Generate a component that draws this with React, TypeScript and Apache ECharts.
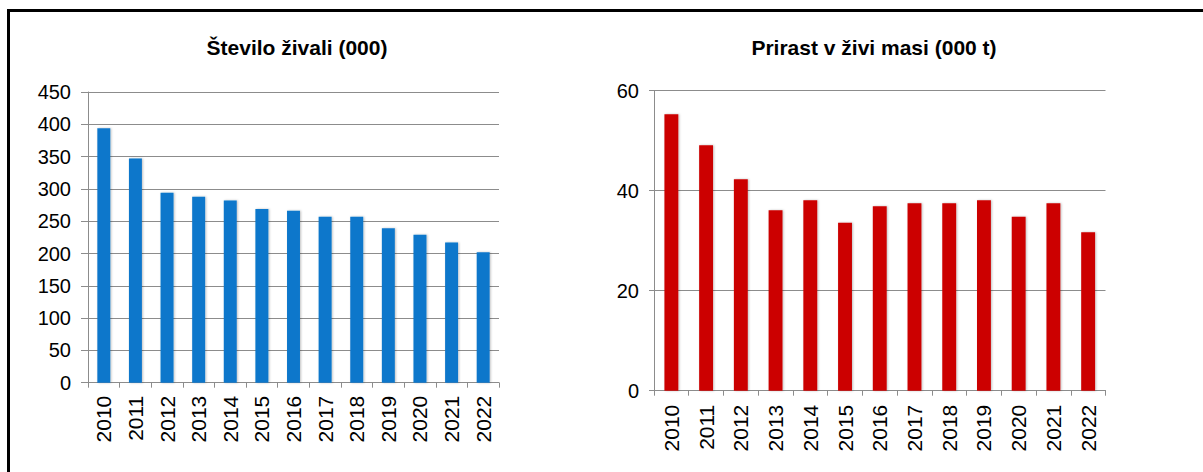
import React, { useEffect, useRef } from "react";
import * as echarts from "echarts";

const years: string[] = ["2010", "2011", "2012", "2013", "2014", "2015", "2016", "2017", "2018", "2019", "2020", "2021", "2022"];
const animals: number[] = [394, 347, 294, 288, 282, 269, 266, 257, 257, 239, 229, 217, 202];
const liveWeightGain: number[] = [55.3, 49.1, 42.3, 36.1, 38.1, 33.6, 36.9, 37.5, 37.5, 38.1, 34.8, 37.5, 31.7];

const leftTitle = "Število živali (000)";
const rightTitle = "Prirast v živi masi (000 t)";

const FONT = "'Liberation Sans', Arial, sans-serif";
const GRID_GRAY = "#8c8c8c";

export default function App() {
  const ref = useRef<HTMLDivElement>(null);

  useEffect(() => {
    if (!ref.current) return;
    const chart = echarts.init(ref.current, undefined, { renderer: "svg" });

    const xAxisBase = (gridIndex: number, margin: number) => ({
      type: "category" as const,
      gridIndex,
      data: years,
      boundaryGap: true,
      axisLine: { show: true, lineStyle: { color: GRID_GRAY, width: 1 } },
      axisTick: { show: true, alignWithLabel: false, length: 5, lineStyle: { color: GRID_GRAY } },
      axisLabel: { rotate: 90, margin, fontSize: 21, color: "#000", fontFamily: FONT },
      splitLine: { show: false },
    });

    const yAxisBase = (gridIndex: number, max: number, interval: number, tick: number, margin: number) => ({
      type: "value" as const,
      gridIndex,
      min: 0,
      max,
      interval,
      axisLine: { show: true, lineStyle: { color: GRID_GRAY, width: 1 } },
      axisTick: { show: true, length: tick, lineStyle: { color: GRID_GRAY } },
      axisLabel: { margin, fontSize: 20, color: "#000", fontFamily: FONT },
      splitLine: { show: true, lineStyle: { color: GRID_GRAY, width: 1 } },
    });

    chart.setOption({
      animation: false,
      backgroundColor: "#fff",
      textStyle: { fontFamily: FONT },
      title: [
        {
          text: leftTitle,
          left: 292,
          top: 32,
          textAlign: "center",
          textStyle: { fontSize: 21, fontWeight: "bold", color: "#000", fontFamily: FONT },
        },
        {
          text: rightTitle,
          left: 869,
          top: 32,
          textAlign: "center",
          textStyle: { fontSize: 21, fontWeight: "bold", color: "#000", fontFamily: FONT },
        },
      ],
      grid: [
        { left: 88, top: 92, width: 411, height: 290.7, containLabel: false },
        { left: 654, top: 90.7, width: 451.5, height: 300, containLabel: false },
      ],
      xAxis: [xAxisBase(0, 13), xAxisBase(1, 14)],
      yAxis: [yAxisBase(0, 450, 50, 7, 17), yAxisBase(1, 60, 20, 5, 15)],
      series: [
        {
          type: "bar",
          xAxisIndex: 0,
          yAxisIndex: 0,
          data: animals,
          barWidth: "41%",
          itemStyle: {
            color: "#0b77cb",
            shadowBlur: 2,
            shadowOffsetX: 1,
            shadowColor: "rgba(0,0,0,0.25)",
          },
        },
        {
          type: "bar",
          xAxisIndex: 1,
          yAxisIndex: 1,
          data: liveWeightGain,
          barWidth: "40%",
          itemStyle: {
            color: "#cc0000",
            shadowBlur: 2,
            shadowOffsetX: 1,
            shadowColor: "rgba(0,0,0,0.25)",
          },
        },
      ],
      graphic: [
        {
          type: "polyline",
          shape: { points: [[8.5, 472], [8.5, 10.5], [1203, 10.5]] },
          style: { stroke: "#000", lineWidth: 3, fill: "none" },
          silent: true,
        },
      ],
    });

    return () => {
      chart.dispose();
    };
  }, []);

  return (
    <div
      ref={ref}
      style={{ position: "fixed", left: 0, top: 0, width: 1203, height: 472, background: "#fff" }}
    />
  );
}
